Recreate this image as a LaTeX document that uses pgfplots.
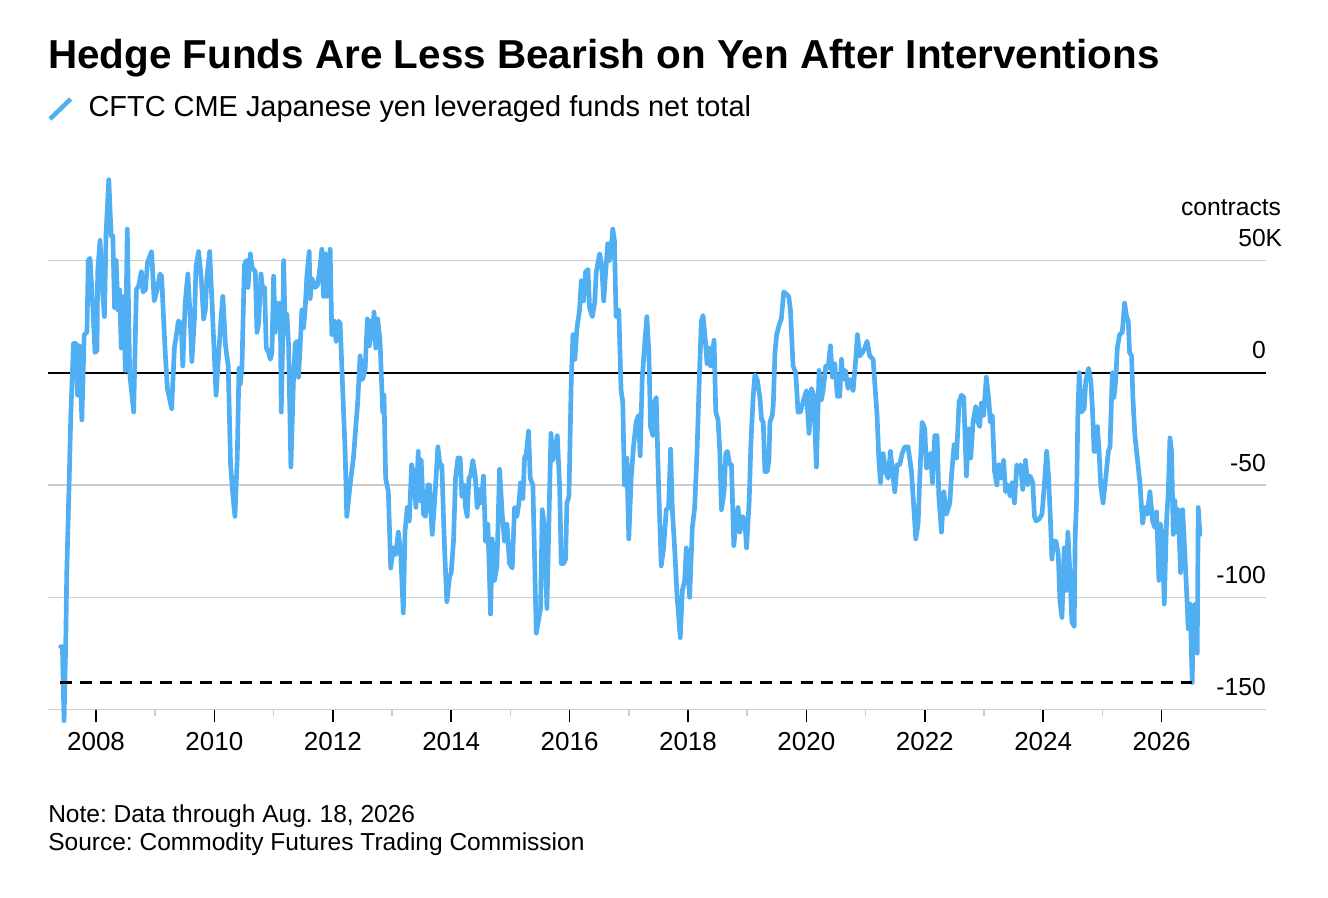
\documentclass[border=0pt]{standalone}
\usepackage{pgfplots}
\pgfplotsset{compat=1.18}
\usepackage{fontspec}
\setmainfont{Liberation Sans}
\definecolor{lineblue}{RGB}{80,174,243}
\definecolor{gridgray}{RGB}{204,204,204}
\begin{document}
\frenchspacing
\begin{tikzpicture}
\useasboundingbox (0,0) rectangle (996pt,-673.5pt);
\begin{axis}[
  at={(36pt,-532.125pt)}, anchor=south west,
  scale only axis, width=913.5pt, height=404.1pt,
  xmin=2007.189, xmax=2027.764, ymin=-150, ymax=90,
  clip=false,
  axis x line*=bottom, axis y line*=right,
  x axis line style={gridgray, line width=1.1pt},
  y axis line style={draw=none},
  tick align=outside,
  xtick={2008,2010,...,2026},
  xticklabels={2008,2010,2012,2014,2016,2018,2020,2022,2024,2026},
  minor xtick={2009,2011,...,2025},
  major tick length=9.5pt, minor tick length=5pt,
  major x tick style={black, line width=1.1pt},
  minor x tick style={gridgray, line width=1.1pt},
  xticklabel style={font=\fontsize{19.5pt}{23pt}\selectfont, anchor=base, inner sep=0pt, yshift=-21pt},
  ytick={-150,-100,-50,50},
  yticklabels={-150,-100,-50,50\rlap{K}},
  extra y ticks={0}, extra y tick labels={0},
  extra y tick style={grid style={black, line width=1.3pt}},
  ytick style={draw=none},
  yticklabel style={font=\fontsize{18.5pt}{22pt}\selectfont, anchor=base east, inner sep=0pt, xshift=-9.5pt, yshift=10.5pt},
  ymajorgrids, grid style={gridgray, line width=1.1pt},
]
\addplot[lineblue, line width=3.5pt, line join=round, line cap=round] coordinates {
(2007.403,-122) (2007.432,-122) (2007.460,-155) (2007.489,-120) (2007.506,-89) (2007.545,-50) (2007.574,-19) (2007.619,13) (2007.659,13) (2007.688,-10) (2007.716,12) (2007.761,-21) (2007.801,17) (2007.847,18) (2007.869,50) (2007.898,51) (2007.943,31) (2007.983,9) (2008.017,10) (2008.028,45) (2008.068,59) (2008.102,39) (2008.142,25) (2008.170,62) (2008.216,86) (2008.256,61) (2008.284,61) (2008.313,29) (2008.341,50) (2008.369,28) (2008.398,37) (2008.426,11) (2008.472,34) (2008.494,1) (2008.528,64) (2008.568,0) (2008.636,-17.5) (2008.682,37) (2008.722,39) (2008.767,45) (2008.795,36) (2008.835,37) (2008.869,49) (2008.938,54) (2008.983,32) (2009.023,36) (2009.080,44) (2009.108,43) (2009.165,11) (2009.205,-7) (2009.278,-16) (2009.324,11) (2009.392,23) (2009.438,22) (2009.466,3) (2009.506,31) (2009.551,44) (2009.591,25) (2009.619,5) (2009.665,25) (2009.688,47) (2009.733,54) (2009.778,42) (2009.818,24) (2009.847,28) (2009.875,43) (2009.920,54) (2009.960,31) (2010.028,-10) (2010.074,9) (2010.114,25) (2010.142,34) (2010.188,12) (2010.233,3) (2010.273,-41) (2010.313,-55) (2010.347,-64) (2010.386,-38) (2010.415,2)
(2010.438,-5) (2010.466,3) (2010.506,48) (2010.539,50) (2010.567,38) (2010.607,53) (2010.635,47) (2010.691,45) (2010.719,18) (2010.747,22) (2010.787,44) (2010.815,37) (2010.848,38) (2010.876,11) (2010.916,9) (2010.944,6) (2010.972,9) (2011.000,43) (2011.028,18) (2011.056,31) (2011.084,20) (2011.112,31) (2011.129,-17.5) (2011.152,12) (2011.169,50) (2011.197,18) (2011.225,26) (2011.253,12) (2011.292,-42) (2011.337,-2) (2011.365,13) (2011.393,14) (2011.421,-2) (2011.449,12) (2011.478,28) (2011.506,20) (2011.534,29) (2011.562,43) (2011.601,54) (2011.618,33) (2011.646,42) (2011.702,38) (2011.742,39) (2011.775,45) (2011.815,55) (2011.843,34) (2011.871,53) (2011.899,34) (2011.955,55) (2011.983,17) (2012.022,23) (2012.056,14) (2012.096,23) (2012.124,22) (2012.208,-35) (2012.236,-64) (2012.292,-50) (2012.348,-38) (2012.421,-13) (2012.461,7.5) (2012.500,-3) (2012.545,1) (2012.584,24) (2012.618,12) (2012.640,23) (2012.669,15) (2012.697,27) (2012.725,11) (2012.758,24) (2012.798,14) (2012.843,-17.5) (2012.865,-10) (2012.893,-47) (2012.938,-53) (2012.978,-87) (2013.022,-78) (2013.062,-81) (2013.107,-71) (2013.146,-80) (2013.191,-107) (2013.219,-71) (2013.258,-60) (2013.292,-66) (2013.331,-41) (2013.371,-46) (2013.404,-60) (2013.444,-35)
(2013.465,-57) (2013.493,-39) (2013.532,-63) (2013.566,-64) (2013.606,-50) (2013.634,-50) (2013.679,-72) (2013.718,-58) (2013.775,-33) (2013.814,-42) (2013.842,-41) (2013.887,-78) (2013.927,-102) (2013.972,-91) (2014.000,-89) (2014.039,-75) (2014.073,-47) (2014.113,-38) (2014.152,-38) (2014.180,-55) (2014.214,-50) (2014.242,-60) (2014.270,-64) (2014.299,-47) (2014.327,-46) (2014.366,-39) (2014.406,-46) (2014.439,-60) (2014.479,-52) (2014.507,-58) (2014.546,-46) (2014.580,-75) (2014.620,-67.5) (2014.665,-107.5) (2014.693,-74) (2014.732,-92.5) (2014.772,-86) (2014.817,-43) (2014.862,-63) (2014.901,-75) (2014.941,-67.5) (2014.986,-85) (2015.031,-87) (2015.070,-60) (2015.110,-64) (2015.144,-58) (2015.172,-49) (2015.211,-56) (2015.239,-38) (2015.268,-36) (2015.307,-26) (2015.335,-47) (2015.380,-50) (2015.408,-82) (2015.437,-116) (2015.476,-110) (2015.510,-105) (2015.538,-61) (2015.577,-69) (2015.617,-105) (2015.651,-66) (2015.685,-27) (2015.718,-39) (2015.752,-35) (2015.792,-28) (2015.831,-50) (2015.859,-85) (2015.899,-85) (2015.932,-83) (2015.955,-58) (2015.989,-55) (2016.028,-3.5) (2016.056,17) (2016.090,6) (2016.124,20) (2016.169,28) (2016.197,41) (2016.237,32) (2016.270,45) (2016.310,46) (2016.338,29) (2016.383,25) (2016.423,31) (2016.451,45) (2016.507,53)
(2016.542,48) (2016.576,32) (2016.605,43) (2016.644,57.5) (2016.672,50) (2016.701,55) (2016.729,64) (2016.757,59) (2016.785,25) (2016.831,28) (2016.870,-8) (2016.898,-13) (2016.927,-50) (2016.966,-38) (2017.000,-74) (2017.040,-47) (2017.079,-33) (2017.124,-22) (2017.164,-19) (2017.192,-37) (2017.226,-3) (2017.266,12) (2017.305,25) (2017.339,9) (2017.367,-24) (2017.407,-28) (2017.435,-13) (2017.463,-11) (2017.503,-50) (2017.548,-86) (2017.588,-78) (2017.633,-61) (2017.672,-60) (2017.706,-34) (2017.734,-60) (2017.774,-78) (2017.814,-99) (2017.870,-118) (2017.904,-97) (2017.944,-92.5) (2017.972,-78) (2018.028,-100) (2018.073,-69) (2018.113,-60) (2018.153,-35) (2018.198,3) (2018.226,23) (2018.254,25.5) (2018.294,14) (2018.322,4) (2018.356,11) (2018.384,3) (2018.412,9) (2018.441,14.5) (2018.469,-17.5) (2018.508,-21) (2018.537,-35) (2018.565,-61) (2018.610,-53) (2018.638,-36) (2018.667,-35) (2018.706,-41) (2018.734,-41) (2018.774,-77) (2018.819,-64) (2018.847,-60) (2018.876,-71) (2018.921,-64) (2018.960,-66) (2018.989,-78) (2019.034,-57) (2019.062,-32) (2019.102,-10) (2019.130,-1) (2019.169,-3) (2019.215,-11) (2019.243,-21) (2019.271,-22) (2019.299,-44) (2019.339,-44) (2019.367,-39) (2019.384,-22) (2019.424,-19) (2019.441,-14) (2019.469,9) (2019.497,17) (2019.542,21.5)
(2019.577,24) (2019.617,36) (2019.662,35) (2019.701,34) (2019.730,28) (2019.775,3) (2019.820,0) (2019.859,-17.5) (2019.899,-17.5) (2019.944,-13) (2020.000,-8) (2020.045,-27) (2020.085,-7) (2020.124,-10) (2020.169,-42) (2020.214,1) (2020.254,-12) (2020.282,-8) (2020.327,3) (2020.366,2) (2020.406,12) (2020.439,-2) (2020.479,4) (2020.524,-10.5) (2020.563,-10.5) (2020.592,6) (2020.620,-3) (2020.659,1) (2020.704,-7) (2020.744,-3) (2020.789,-8) (2020.834,6) (2020.862,17) (2020.901,7.5) (2020.946,9) (2020.986,11) (2021.025,14) (2021.070,7.5) (2021.127,6) (2021.172,-11) (2021.194,-19) (2021.223,-38) (2021.251,-49) (2021.296,-36) (2021.341,-44) (2021.380,-47) (2021.420,-35) (2021.454,-44) (2021.493,-53) (2021.532,-41) (2021.577,-41) (2021.617,-36) (2021.662,-33) (2021.718,-33) (2021.775,-44) (2021.814,-60) (2021.848,-74) (2021.887,-67.5) (2021.915,-47) (2021.955,-22) (2022.000,-25) (2022.028,-42.5) (2022.062,-41) (2022.096,-36) (2022.130,-49) (2022.169,-28) (2022.208,-28) (2022.237,-55) (2022.282,-71) (2022.321,-53) (2022.366,-63) (2022.423,-58) (2022.451,-46) (2022.496,-32) (2022.535,-38) (2022.580,-13)
(2022.619,-10) (2022.658,-11) (2022.703,-46) (2022.742,-25) (2022.776,-38) (2022.815,-22) (2022.860,-15) (2022.899,-22) (2022.927,-24) (2022.955,-13.5) (2022.994,-19) (2023.039,-2) (2023.084,-13) (2023.106,-22) (2023.140,-19) (2023.179,-44) (2023.218,-50) (2023.252,-41) (2023.291,-47) (2023.331,-39) (2023.364,-53) (2023.403,-50) (2023.443,-55) (2023.476,-49) (2023.515,-58) (2023.555,-41) (2023.588,-44) (2023.616,-41) (2023.655,-52) (2023.700,-39) (2023.739,-50) (2023.779,-46) (2023.824,-49) (2023.852,-64) (2023.880,-66) (2023.936,-65) (2023.980,-63) (2024.020,-50) (2024.059,-35) (2024.092,-47) (2024.120,-64) (2024.148,-83) (2024.176,-75) (2024.216,-75) (2024.255,-81) (2024.283,-102) (2024.317,-109) (2024.356,-78) (2024.384,-97) (2024.417,-71) (2024.451,-89) (2024.485,-111) (2024.524,-113) (2024.541,-72) (2024.563,-58) (2024.585,-19) (2024.608,0) (2024.647,-17.5) (2024.692,-16) (2024.720,-3.5) (2024.765,2) (2024.804,-3.5) (2024.832,-16) (2024.860,-35) (2024.888,-35) (2024.916,-24) (2024.944,-35) (2024.972,-50) (2025.011,-58) (2025.056,-47) (2025.101,-35) (2025.129,-33) (2025.168,0) (2025.196,-11) (2025.224,-3.5) (2025.252,11) (2025.291,17) (2025.336,18) (2025.375,31) (2025.409,25) (2025.437,23) (2025.459,9) (2025.493,7.5) (2025.515,-11) (2025.549,-28)
(2025.634,-49) (2025.679,-67) (2025.718,-60) (2025.758,-63) (2025.803,-53) (2025.848,-66) (2025.887,-69) (2025.916,-62) (2025.955,-92.5) (2025.983,-67.5) (2026.017,-75) (2026.045,-103) (2026.084,-66) (2026.113,-53) (2026.141,-29) (2026.169,-35) (2026.197,-72) (2026.225,-57) (2026.253,-71) (2026.282,-61) (2026.321,-89) (2026.355,-61) (2026.377,-72) (2026.422,-97) (2026.450,-114) (2026.479,-103) (2026.495,-116) (2026.518,-138) (2026.535,-105) (2026.563,-103) (2026.580,-124) (2026.602,-125) (2026.619,-60) (2026.648,-72)
};
\addplot[black, line width=2.4pt, dash pattern=on 9pt off 6pt] coordinates {(2007.40,-138.1) (2026.518,-138.1)};
\node[anchor=base east, inner sep=0pt, font=\fontsize{18.5pt}{22pt}\selectfont] at ([xshift=11.5pt, yshift=34.1pt]axis cs:2027.764,50) {contracts};
\end{axis}
\node[anchor=base west, inner sep=0pt, font=\fontsize{30.3pt}{36pt}\selectfont\bfseries] at (36pt,-51.75pt) {Hedge Funds Are Less Bearish on Yen After Interventions};
\draw[lineblue, line width=3.4pt] (37.5pt,-89.25pt) -- (53pt,-74.25pt);
\node[anchor=base west, inner sep=0pt, font=\fontsize{21.7pt}{25pt}\selectfont] at (66.2pt,-87.75pt) {CFTC CME Japanese yen leveraged funds net total};
\node[anchor=base west, inner sep=0pt, font=\fontsize{18.4pt}{22pt}\selectfont] at (36pt,-617pt) {Note: Data through Aug. 18, 2026};
\node[anchor=base west, inner sep=0pt, font=\fontsize{18.4pt}{22pt}\selectfont] at (36pt,-638pt) {Source: Commodity Futures Trading Commission};
\end{tikzpicture}
\end{document}
